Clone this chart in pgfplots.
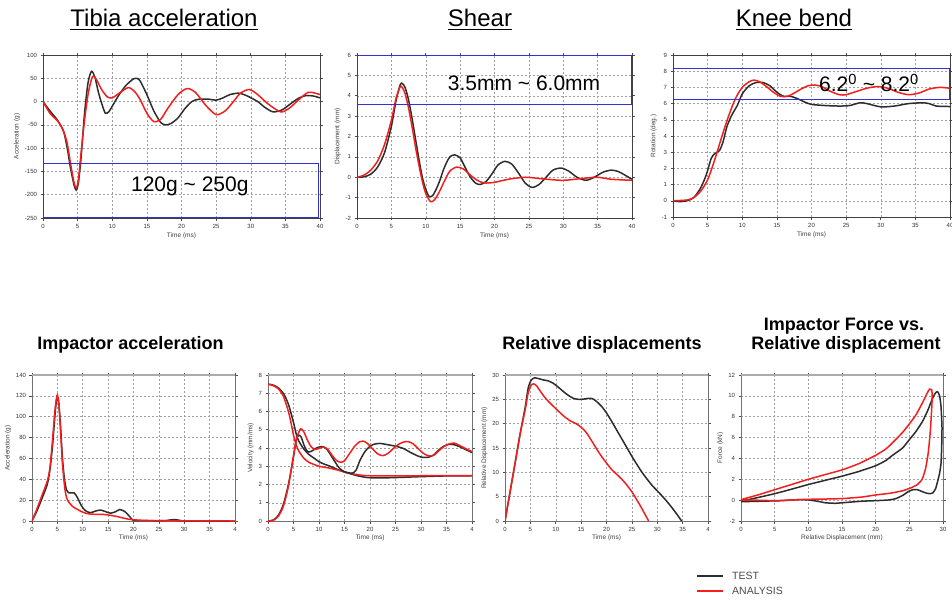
\documentclass[border=0pt]{standalone}
\usepackage{fontspec}
\setmainfont{Liberation Sans}
\usepackage{pgfplots}
\pgfplotsset{compat=1.18}
\definecolor{tst}{RGB}{45,45,45}
\definecolor{ana}{RGB}{245,30,30}
\definecolor{boxblue}{RGB}{50,50,210}
\pgfplotsset{
  base/.style={scale only axis, anchor=north west,
    enlargelimits=false,
    grid=major, major grid style={dash pattern=on 2pt off 2pt, gray!75, line width=0.5pt},
    tick align=outside, tick pos=both, major tick length=2.5pt,
    tick style={black!70, line width=0.6pt},
    ticklabel style={font=\fontsize{6}{7}\selectfont, text=black!80},
    label style={font=\fontsize{6.5}{7}\selectfont, text=black!75},
    /pgf/number format/assume math mode=true,
    xlabel={Time (ms)},
    xmin=0, xmax=40, xtick={0,5,...,40},
  },
  toppanel/.style={base, axis line style={black!75, line width=0.8pt},
    xlabel style={yshift=2pt}, ylabel style={yshift=-2pt}},
  botpanel/.style={base, axis line style={black!55, line width=0.6pt},
    xlabel style={yshift=3pt}, ylabel style={yshift=-2pt},
    after end axis/.code={\draw[gray!65, line width=2.6pt] (rel axis cs:0,1) -- (rel axis cs:1,1);}},
  T/.style={tst, line width=1.5pt, smooth, tension=0.45},
  A/.style={ana, line width=1.5pt, smooth, tension=0.45},
}
\begin{document}
\begin{tikzpicture}[x=1pt,y=1pt]
\path[use as bounding box, fill=white] (0,0) rectangle (952,-600);

% ---------- titles ----------
\node[anchor=base, font=\fontsize{24}{28}\selectfont, inner sep=0] (t1) at (164,-26) {Tibia acceleration};
\draw[line width=1.8pt] ([yshift=-3.5pt]t1.base west) -- ([yshift=-3.5pt]t1.base east);
\node[anchor=base, font=\fontsize{24}{28}\selectfont, inner sep=0] (t2) at (480,-26) {Shear};
\draw[line width=1.8pt] ([yshift=-3.5pt]t2.base west) -- ([yshift=-3.5pt]t2.base east);
\node[anchor=base, font=\fontsize{24}{28}\selectfont, inner sep=0] (t3) at (794,-26) {Knee bend};
\draw[line width=1.8pt] ([yshift=-3.5pt]t3.base west) -- ([yshift=-3.5pt]t3.base east);

\node[anchor=base, font=\bfseries\fontsize{18}{20}\selectfont, inner sep=0] at (130.5,-349) {Impactor acceleration};
\node[anchor=base, font=\bfseries\fontsize{18}{20}\selectfont, inner sep=0] at (602,-349) {Relative displacements};
\node[anchor=base, font=\bfseries\fontsize{18}{20}\selectfont, inner sep=0] at (844,-330) {Impactor Force vs.};
\node[anchor=base, font=\bfseries\fontsize{18}{20}\selectfont, inner sep=0] at (846,-349) {Relative displacement};

% ---------- Tibia acceleration ----------
\begin{axis}[toppanel, at={(43pt,-55pt)}, width=277pt, height=163pt,
  ymin=-250, ymax=100, ytick={-250,-200,...,100}, ylabel={Acceleration (g)}]
\addplot[T] coordinates {(0,0)(1,-20)(2,-38)(2.5,-50)(3,-65)(3.5,-100)(4,-145)(4.5,-180)(4.8,-190)(5.1,-175)(5.5,-120)(6,-25)(6.5,40)(7,65)(7.5,52)(8,20)(8.5,-5)(9,-25)(9.5,-22)(10,-10)(11,15)(12,35)(13,48)(13.5,50)(14,45)(15,15)(16,-20)(17,-45)(17.7,-50)(18.5,-47)(19.5,-35)(20.5,-15)(21.5,0)(22.5,5)(24,5)(25,3)(26,8)(27,15)(28.3,18)(29.5,12)(31,0)(32,-12)(33.2,-22)(34.5,-18)(36,-2)(37,8)(38,13)(39,12)(40,8)};
\addplot[A] coordinates {(0,0)(1,-25)(2,-40)(2.5,-50)(3,-65)(3.5,-90)(4,-135)(4.5,-175)(4.8,-185)(5.1,-170)(5.5,-110)(6,-40)(6.5,15)(7,48)(7.3,55)(7.8,45)(8.5,25)(9.3,10)(10,8)(11,18)(12.3,30)(13.2,22)(14,5)(15,-25)(16,-43)(17,-38)(18,-15)(19.5,15)(20.8,28)(22,20)(23.5,-8)(25,-28)(26.3,-20)(27.5,0)(28.5,18)(29.8,26)(31,15)(32.5,-5)(34.3,-22)(35.5,-15)(37,5)(38.3,20)(39.3,18)(40,15)};
\draw[boxblue, line width=0.8pt] (axis cs:0.05,-132) rectangle (axis cs:39.7,-249.5);
\node[font=\fontsize{21}{24}\selectfont] at (axis cs:21.2,-183) {120g \textasciitilde{} 250g};
\end{axis}

% ---------- Shear ----------
\begin{axis}[toppanel, at={(357pt,-55pt)}, width=275pt, height=163pt,
  ymin=-2, ymax=6, ytick={-2,-1,...,6}, ylabel={Displacement (mm)}]
\addplot[T] coordinates {(0,0)(1,0.02)(2,0.15)(3,0.5)(4,1.2)(5,2.5)(5.7,3.8)(6.3,4.55)(6.6,4.6)(7,4.4)(7.5,3.8)(8,2.9)(8.5,1.9)(9,0.9)(9.5,0.0)(10,-0.6)(10.5,-0.95)(11,-0.9)(11.5,-0.6)(12,-0.2)(12.5,0.3)(13,0.7)(13.5,1.0)(14.2,1.1)(15,0.95)(15.7,0.5)(16.5,0.0)(17.3,-0.3)(18,-0.35)(18.8,-0.2)(19.7,0.2)(20.5,0.6)(21.5,0.78)(22.5,0.65)(23.5,0.2)(24.5,-0.3)(25.5,-0.5)(26.5,-0.35)(27.5,0.0)(28.5,0.35)(29.7,0.45)(30.8,0.3)(32,0.0)(33.3,-0.15)(34.5,0.0)(35.8,0.25)(37,0.35)(38,0.28)(39,0.1)(40,-0.1)};
\addplot[A] coordinates {(0,0)(1,0.1)(2,0.35)(3,0.8)(4,1.6)(5,2.8)(5.7,3.9)(6.3,4.45)(6.6,4.4)(7,4.1)(7.5,3.4)(8,2.5)(8.5,1.5)(9,0.6)(9.5,-0.2)(10,-0.8)(10.7,-1.2)(11.3,-1.1)(12,-0.7)(12.7,-0.2)(13.5,0.3)(14.5,0.5)(15.5,0.4)(16.5,0.1)(17.5,-0.15)(18.5,-0.28)(20,-0.25)(22,-0.1)(24.5,0.0)(27,-0.08)(30,-0.15)(33,-0.05)(35,0.0)(37,-0.1)(40,-0.15)};
\draw[boxblue, line width=0.8pt] (axis cs:0.05,3.6) rectangle (axis cs:39.9,5.98);
\node[font=\fontsize{21}{24}\selectfont] at (axis cs:24.3,4.63) {3.5mm \textasciitilde{} 6.0mm};
\end{axis}

% ---------- Knee bend ----------
\begin{axis}[toppanel, at={(673pt,-55pt)}, width=277pt, height=162pt,
  ymin=-1, ymax=9, ytick={-1,0,...,9}, ylabel={Rotation (deg.)}]
\addplot[T] coordinates {(0,0)(1,-0.05)(2,0.0)(3,0.2)(4,0.8)(4.8,1.6)(5.5,2.6)(6,2.9)(6.7,3.1)(7.2,3.6)(7.8,4.6)(8.5,5.3)(9.3,5.9)(10,6.6)(11,7.1)(12,7.3)(13,7.3)(14,7.1)(15,6.7)(16,6.45)(17,6.45)(18,6.3)(19,6.1)(20,5.95)(22,5.88)(24,5.85)(25.5,5.88)(27,6.05)(28,6.0)(30,5.8)(32,5.85)(34,6.0)(36,6.05)(37,6.0)(38,5.85)(40,5.82)};
\addplot[A] coordinates {(0,0)(2,0.05)(3,0.2)(4,0.6)(5,1.3)(6,2.5)(7,3.9)(8,5.2)(9,6.3)(10,7.0)(11,7.35)(11.7,7.45)(12.5,7.35)(13.5,7.05)(14.5,6.7)(15.5,6.45)(16.5,6.45)(17.5,6.65)(18.5,6.9)(19.5,7.1)(20.5,7.15)(21.5,7.05)(22.5,6.8)(24,6.55)(25,6.55)(26.5,6.75)(28,6.95)(29.5,7.05)(31,6.95)(32.5,6.7)(34,6.55)(35.5,6.65)(37,6.9)(38.5,7.0)(40,6.95)};
\draw[boxblue, line width=0.8pt] (axis cs:0.05,6.27) rectangle (axis cs:39.9,8.18);
\node[font=\fontsize{21}{24}\selectfont] at (axis cs:28.3,7.27) {6.2\textsuperscript{0} \textasciitilde{} 8.2\textsuperscript{0}};
\end{axis}

% ---------- Impactor acceleration ----------
\begin{axis}[botpanel, at={(32pt,-375pt)}, width=203pt, height=146pt,
  ymin=0, ymax=140, ytick={0,20,...,140}, ylabel={Acceleration (g)},
  xticklabels={0,5,10,15,20,25,30,35,4}]
\addplot[T] coordinates {(0,0)(1,10)(2,22)(3,35)(3.5,48)(4,70)(4.5,100)(4.8,115)(5,118)(5.3,112)(5.7,85)(6,60)(6.4,40)(6.8,30)(7.3,27)(8.3,27)(9,22)(9.7,15)(10.5,10)(11.5,8)(12.5,9.5)(13.5,10.5)(14.5,9)(15.5,7.5)(16.5,9)(17.3,11)(18.3,9)(19.3,4)(20,0.5)(22,0.3)(26,0.3)(27.5,1.2)(28.5,1.2)(29.5,0.2)(30,0)(40,0)};
\addplot[A] coordinates {(0,0)(1,12)(2,25)(3,38)(3.5,50)(4,75)(4.5,105)(4.8,117)(5,121)(5.3,112)(5.7,80)(6,55)(6.5,30)(7,20)(8,14)(9,11)(10,8.5)(11,7)(12,6.5)(14,6.3)(15,5.8)(16,5)(17,4)(18,2.8)(19,1.8)(20,1.2)(22,0.6)(25,0.3)(30,0.1)(40,0)};
\end{axis}

% ---------- Velocity ----------
\begin{axis}[botpanel, at={(268pt,-375pt)}, width=204pt, height=146pt,
  ymin=0, ymax=8, ytick={0,1,...,8}, ylabel={Velocity (mm/ms)},
  xticklabels={0,5,10,15,20,25,30,35,4}]
\addplot[T] coordinates {(0,7.5)(1,7.45)(2,7.3)(3,7.0)(4,6.4)(5,5.4)(5.5,4.8)(6,4.4)(7,3.95)(8,3.65)(9,3.45)(10,3.25)(11,3.12)(12,3.02)(13,2.9)(14,2.78)(15,2.68)(16,2.6)(17,2.52)(18,2.45)(19,2.4)(20,2.37)(22,2.36)(25,2.38)(30,2.43)(35,2.47)(40,2.48)};
\addplot[A] coordinates {(0,7.5)(1,7.42)(2,7.25)(3,6.85)(4,6.0)(4.5,5.4)(5,4.7)(5.5,4.2)(6,3.85)(7,3.45)(8,3.22)(9,3.1)(10,3.0)(12,2.9)(14,2.77)(16,2.62)(18,2.52)(20,2.48)(25,2.47)(30,2.48)(40,2.48)};
\addplot[T] coordinates {(0,0)(1,0.05)(2,0.3)(3,0.9)(4,2.0)(5,3.5)(5.5,4.4)(6,4.7)(6.5,4.6)(7,4.2)(7.5,3.9)(8,3.78)(8.7,3.85)(9.5,4.0)(10.5,4.08)(11.3,4.0)(12,3.75)(13,3.3)(14,2.9)(15,2.7)(16.5,2.62)(17.3,2.8)(18,3.3)(19,3.8)(20,4.1)(21,4.22)(22,4.25)(23.5,4.18)(25,4.1)(26.5,3.98)(28,3.75)(29.5,3.55)(30.5,3.48)(31.5,3.5)(32.5,3.62)(33.5,3.9)(34.5,4.1)(35.5,4.2)(36.5,4.18)(37.5,4.08)(38.5,3.95)(40,3.75)};
\addplot[A] coordinates {(0,0)(1,0.03)(2,0.25)(3,0.8)(4,1.9)(5,3.6)(5.7,4.6)(6.4,5.05)(7,4.9)(7.7,4.45)(8.5,4.05)(9.3,3.92)(10.2,4.0)(11,4.05)(11.8,3.9)(12.7,3.55)(13.5,3.3)(14.3,3.22)(15,3.3)(16,3.7)(17,4.1)(18,4.35)(18.7,4.38)(19.5,4.25)(20.5,3.95)(21.5,3.68)(22.5,3.58)(23.5,3.7)(24.5,3.95)(25.5,4.18)(26.5,4.32)(27.5,4.35)(28.5,4.22)(29.5,3.95)(30.5,3.7)(31.5,3.57)(32.5,3.6)(33.5,3.85)(34.5,4.08)(35.5,4.22)(36.5,4.27)(37.5,4.15)(38.5,4.0)(40,3.8)};
\end{axis}

% ---------- Relative displacements ----------
\begin{axis}[botpanel, at={(505pt,-375pt)}, width=203pt, height=146pt,
  ymin=0, ymax=30, ytick={0,5,...,30}, ylabel={Relative Displacement (mm)},
  xticklabels={0,5,10,15,20,25,30,35,4}]
\addplot[T] coordinates {(0,0)(1,6)(2,12)(3,18)(4,23.5)(4.6,27.5)(5.2,29.0)(5.8,29.4)(6.5,29.3)(7.5,29.0)(8.5,28.8)(9.5,28.3)(10.5,27.5)(11.5,26.6)(12.5,25.8)(13.5,25.2)(14.5,25.0)(15.5,25.05)(16.5,25.2)(17.3,25.1)(18,24.6)(19,23.6)(20,22.2)(21,20.5)(22,18.7)(23,16.9)(24,15.1)(25,13.3)(26,11.6)(27,10.0)(28,8.6)(29,7.3)(30,6.2)(31,5.1)(32,3.9)(33,2.6)(34,1.2)(34.8,0)};
\addplot[A] coordinates {(0,0)(1,6)(2,12)(3,18)(4,23)(4.6,26.5)(5.2,28.0)(5.6,28.2)(6.2,27.8)(7,26.6)(8,25.2)(9,24.1)(10,23.1)(11,22.1)(12,21.2)(13,20.5)(14,20.0)(15,19.3)(16,18.2)(17,16.6)(18,14.9)(19,13.3)(20,11.9)(21,10.6)(22,9.6)(23,8.6)(24,7.4)(25,6.0)(26,4.3)(27,2.5)(28.3,0)};
\end{axis}

% ---------- Force vs displacement ----------
\begin{axis}[botpanel, at={(741pt,-375pt)}, width=202pt, height=146pt,
  xmin=0, xmax=30, xtick={0,5,...,30}, xlabel={Relative Displacement (mm)},
  ymin=-2, ymax=12, ytick={-2,0,...,12}, ylabel={Force (kN)}]
\addplot[T, tension=0.3] coordinates {(0,-0.1)(2.5,0.25)(5,0.62)(7.5,1.05)(10,1.5)(12.5,1.9)(15,2.3)(17.5,2.75)(20,3.3)(21.5,3.8)(22.5,4.3)(24,5.0)(25,5.8)(26,6.6)(27,7.6)(27.8,8.7)(28.4,9.7)(28.9,10.3)(29.2,10.4)(29.5,10.0)(29.7,9.0)(29.85,7.0)(29.8,5.0)(29.7,3.5)(29.5,2.6)(29.2,1.8)(28.9,1.1)(28.5,0.7)(28.0,0.62)(27.4,0.7)(26.8,0.85)(26.2,1.0)(25.5,1.0)(24.8,0.8)(24.0,0.45)(23.0,0.15)(22,0.02)(20,-0.05)(18,-0.1)(16,-0.2)(14,-0.3)(12.5,-0.25)(11.3,-0.1)(10,0.02)(8.5,0.05)(6,-0.05)(3,-0.1)(0,-0.15)};
\addplot[A, tension=0.3] coordinates {(0,0.05)(2.5,0.5)(5,1.0)(7.5,1.5)(10,2.0)(12.5,2.45)(15,2.9)(17.5,3.5)(20,4.3)(21.5,4.9)(22.5,5.5)(24,6.5)(25,7.3)(26,8.2)(27,9.4)(27.6,10.2)(28.0,10.65)(28.3,10.6)(28.4,10.0)(28.3,8.5)(28.1,6.5)(27.8,4.5)(27.4,3.0)(26.9,2.0)(26.2,1.5)(25.3,1.2)(24,0.9)(22,0.65)(20,0.5)(18,0.3)(15,0.15)(12,0.1)(10,0.08)(7,0.0)(5,-0.05)(2,0.0)(0,0.0)};
\end{axis}

% ---------- legend ----------
\draw[tst, line width=1.6pt] (697,-576) -- (723,-576);
\node[anchor=west, font=\fontsize{10.5}{12}\selectfont, text=black!70, inner sep=0] at (732,-576) {TEST};
\draw[ana, line width=1.6pt] (697,-591) -- (723,-591);
\node[anchor=west, font=\fontsize{10.5}{12}\selectfont, text=black!70, inner sep=0] at (732,-591) {ANALYSIS};
\end{tikzpicture}
\end{document}
